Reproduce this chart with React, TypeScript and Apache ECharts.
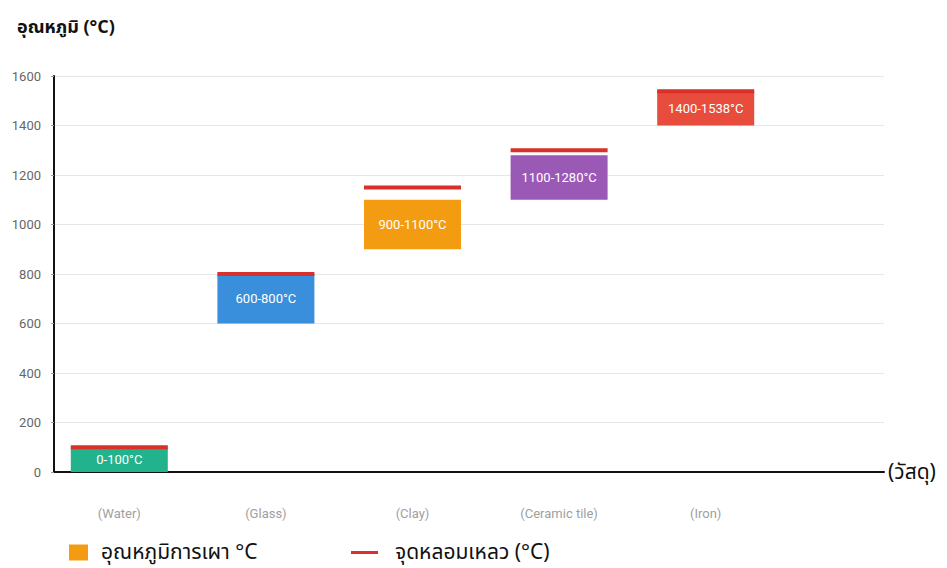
import React, { useEffect, useRef } from "react";
import * as echarts from "echarts";

const categories = ["(Water)", "(Glass)", "(Clay)", "(Ceramic tile)", "(Iron)"];
const firingLow = [0, 600, 900, 1100, 1400];
const firingHigh = [100, 800, 1100, 1280, 1538];
const meltingPoint = [100, 800, 1150, 1300, 1538];
const rangeLabels = ["0-100°C", "600-800°C", "900-1100°C", "1100-1280°C", "1400-1538°C"];
const barColors = ["#22b38c", "#3a8fdc", "#f39c12", "#9b59b6", "#e74c3c"];

const yMin = 0;
const yMax = 1600;
const yInterval = 200;

const firingName = "อุณหภูมิการเผา °C";
const meltName = "จุดหลอมเหลว (°C)";
const yTitle = "อุณหภูมิ (°C)";
const xTitle = "(วัสดุ)";

const thaiFont = "'Noto Sans Thai', 'Noto Sans', 'DejaVu Sans', sans-serif";
const latinFont = "Roboto, 'Liberation Sans', Arial, sans-serif";

export default function App() {
  const ref = useRef<HTMLDivElement>(null);
  useEffect(() => {
    if (!ref.current) return;
    const chart = echarts.init(ref.current, undefined, { renderer: "svg" });
    const option: any = {
      animation: false,
      backgroundColor: "#ffffff",
      title: {
        text: yTitle,
        left: 12,
        top: 13,
        textStyle: { fontFamily: thaiFont, fontSize: 18, fontWeight: "bold", color: "#111" },
      },
      grid: [
        { left: 46, top: 76, bottom: 96, width: 733 },
        { left: 54, top: 76, bottom: 96, right: 63 },
      ],
      xAxis: [
        {
          type: "category",
          gridIndex: 0,
          data: categories,
          axisLine: { show: false },
          axisTick: { show: false },
          axisLabel: { margin: 35, color: "#a0a0a0", fontSize: 13, fontFamily: latinFont },
          splitLine: { show: false },
        },
        {
          type: "value",
          gridIndex: 1,
          min: 0,
          max: 1,
          axisLine: { show: true, lineStyle: { color: "#111", width: 2 } },
          axisTick: { show: false },
          axisLabel: { show: false },
          splitLine: { show: false },
          name: xTitle,
          nameLocation: "end",
          nameGap: 4,
          nameTextStyle: { fontFamily: thaiFont, fontSize: 21, color: "#111", padding: [6, 0, 0, 0] },
        },
      ],
      yAxis: [
        {
          type: "value",
          gridIndex: 1,
          min: yMin,
          max: yMax,
          interval: yInterval,
          axisLine: { show: true, lineStyle: { color: "#111", width: 2 } },
          axisTick: { show: true, length: 3, lineStyle: { color: "#999" } },
          axisLabel: {
            margin: 13,
            color: "#666",
            fontSize: 13,
            fontFamily: latinFont,
            formatter: (v: number) => String(v),
          },
          splitLine: { show: true, lineStyle: { color: "#e6e6e6", width: 1 } },
        },
        {
          type: "value",
          gridIndex: 0,
          min: yMin,
          max: yMax,
          interval: yInterval,
          show: false,
          splitLine: { show: false },
        },
      ],
      legend: [
        {
          data: [{ name: firingName, icon: "rect" }],
          left: 64,
          top: 537,
          itemWidth: 19,
          itemHeight: 16,
          textStyle: { fontFamily: thaiFont, fontSize: 21, color: "#111", padding: [0, 0, 0, 8] },
        },
        {
          data: [{ name: meltName, icon: "rect" }],
          left: 346,
          top: 537,
          itemWidth: 27,
          itemHeight: 3,
          textStyle: { fontFamily: thaiFont, fontSize: 21, color: "#111", padding: [0, 0, 0, 12] },
        },
      ],
      series: [
        {
          name: "base",
          type: "bar",
          xAxisIndex: 0,
          yAxisIndex: 1,
          stack: "firing",
          barWidth: 97,
          itemStyle: { color: "transparent" },
          emphasis: { disabled: true },
          data: firingLow,
        },
        {
          name: firingName,
          type: "bar",
          xAxisIndex: 0,
          yAxisIndex: 1,
          stack: "firing",
          barWidth: 97,
          itemStyle: { color: "#f39c12" },
          label: {
            show: true,
            position: "inside",
            color: "#ffffff",
            fontSize: 13,
            fontFamily: latinFont,
            formatter: (p: any) => rangeLabels[p.dataIndex],
          },
          data: firingHigh.map((h, i) => ({
            value: h - firingLow[i],
            itemStyle: { color: barColors[i] },
          })),
        },
        {
          name: meltName,
          type: "scatter",
          xAxisIndex: 0,
          yAxisIndex: 1,
          symbol: "rect",
          symbolSize: [97, 4],
          itemStyle: { color: "#d9302c", opacity: 1 },
          z: 5,
          data: meltingPoint,
        },
      ],
    };
    chart.setOption(option);
    return () => chart.dispose();
  }, []);
  return (
    <div
      ref={ref}
      style={{ position: "absolute", left: 0, top: 0, width: 947, height: 568 }}
    />
  );
}
